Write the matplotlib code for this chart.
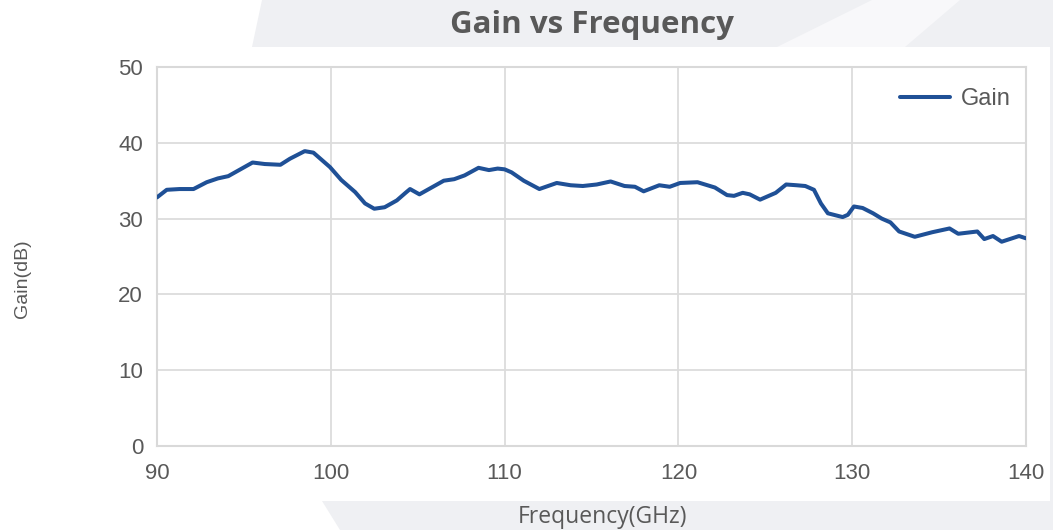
import matplotlib
matplotlib.use("Agg")
import matplotlib.pyplot as plt
from matplotlib.patches import Polygon

# ---------------- data ----------------
freq_ghz = [90.0, 90.56, 91.3, 92.1, 92.86, 93.5, 94.1, 94.8, 95.5, 96.2, 97.1, 97.65,
            98.5, 99.0, 99.95, 100.6, 101.4, 101.97, 102.5, 103.1, 103.8, 104.3, 104.56,
            105.1, 105.8, 106.5, 107.1, 107.7, 108.5, 109.1, 109.6, 110.0, 110.4, 111.1,
            112.0, 113.0, 113.8, 114.5, 115.3, 116.1, 116.9, 117.5, 118.0, 118.9, 119.5,
            120.1, 121.1, 122.1, 122.8, 123.2, 123.7, 124.1, 124.7, 125.6, 126.2, 126.8,
            127.3, 127.8, 128.2, 128.6, 129.45, 129.75, 130.1, 130.6, 131.2, 131.7, 132.2,
            132.7, 133.6, 134.6, 135.6, 136.1, 137.2, 137.6, 138.1, 138.6, 139.6, 140.0]
gain_db = [32.8, 33.8, 33.9, 33.9, 34.8, 35.3, 35.6, 36.5, 37.4, 37.2, 37.1, 37.9,
           38.9, 38.7, 36.8, 35.1, 33.5, 32.0, 31.3, 31.5, 32.4, 33.4, 33.9,
           33.2, 34.1, 35.0, 35.2, 35.7, 36.7, 36.4, 36.6, 36.5, 36.1, 35.0,
           33.9, 34.7, 34.4, 34.3, 34.5, 34.9, 34.3, 34.2, 33.6, 34.4, 34.2,
           34.7, 34.8, 34.1, 33.1, 33.0, 33.4, 33.2, 32.5, 33.4, 34.5, 34.4,
           34.3, 33.8, 32.0, 30.7, 30.2, 30.5, 31.6, 31.4, 30.7, 30.0, 29.5,
           28.3, 27.6, 28.2, 28.7, 28.0, 28.3, 27.3, 27.7, 26.95, 27.7, 27.4]
series_name = "Gain"
x_ticks = [90, 100, 110, 120, 130, 140]
y_ticks = [0, 10, 20, 30, 40, 50]
title = "Gain vs Frequency"
x_label = "Frequency(GHz)"
y_label = "Gain(dB)"

# ---------------- figure ----------------
W, H = 1053, 530
fig = plt.figure(figsize=(W / 100, H / 100), dpi=100, facecolor="white")

def px(x, y):
    return (x / W, 1 - y / H)

bg = "#eff0f3"
# decorative background bands
fig.patches.append(Polygon([px(262, 0), px(W, 0), px(W, 47), px(252, 47)],
                           closed=True, transform=fig.transFigure, facecolor=bg,
                           edgecolor="none", zorder=0))
fig.patches.append(Polygon([px(872, 0), px(960, 0), px(905, 47), px(777, 47)],
                           closed=True, transform=fig.transFigure, facecolor="#f8f8fa",
                           edgecolor="none", zorder=0.5))
fig.patches.append(Polygon([px(322, 501), px(W, 501), px(W, H), px(340, H)],
                           closed=True, transform=fig.transFigure, facecolor=bg,
                           edgecolor="none", zorder=0))
fig.patches.append(Polygon([px(1050, 47), px(W, 47), px(W, 501), px(1050, 501)],
                           closed=True, transform=fig.transFigure, facecolor=bg,
                           edgecolor="none", zorder=0))

ax = fig.add_axes([157 / W, (H - 446) / H, (1026 - 157) / W, (446 - 67) / H])
ax.set_facecolor("white")

line_color = "#1f5096"
ax.plot(freq_ghz, gain_db, color=line_color, lw=2.9, solid_joinstyle="round",
        solid_capstyle="round", label=series_name, zorder=3)

ax.set_xlim(90, 140)
ax.set_ylim(0, 50)
ax.set_xticks(x_ticks)
ax.set_yticks(y_ticks)
ax.grid(True, color="#dcdcdc", lw=1.3)
ax.set_axisbelow(True)
for s in ax.spines.values():
    s.set_color("#d9d9d9")
    s.set_linewidth(1.5)

ax.tick_params(axis="both", length=0, labelcolor="#595959", labelsize=16)
ax.tick_params(axis="x", pad=12)
ax.tick_params(axis="y", pad=10)
for lab in ax.get_xticklabels() + ax.get_yticklabels():
    lab.set_fontfamily("Liberation Sans")

leg = ax.legend(loc="center right", bbox_to_anchor=(0.982, 0.915), frameon=False,
                handlelength=2.1, handletextpad=0.45, borderpad=0, borderaxespad=0,
                prop={"family": "Liberation Sans", "size": 17})
for t in leg.get_texts():
    t.set_color("#595959")

fig.text(592 / W, 1 - 25 / H, title, ha="center", va="center", fontsize=22.5,
         fontweight="bold", family="Open Sans", color="#595959")
fig.text(603 / W, 1 - 517 / H, x_label, ha="center", va="center", fontsize=16.5,
         family="Open Sans", color="#595959")
fig.text(22 / W, 1 - 279 / H, y_label, ha="center", va="center", fontsize=14,
         family="Liberation Sans", color="#595959", rotation=90)

fig.savefig("out.png", dpi=100, facecolor="white")
